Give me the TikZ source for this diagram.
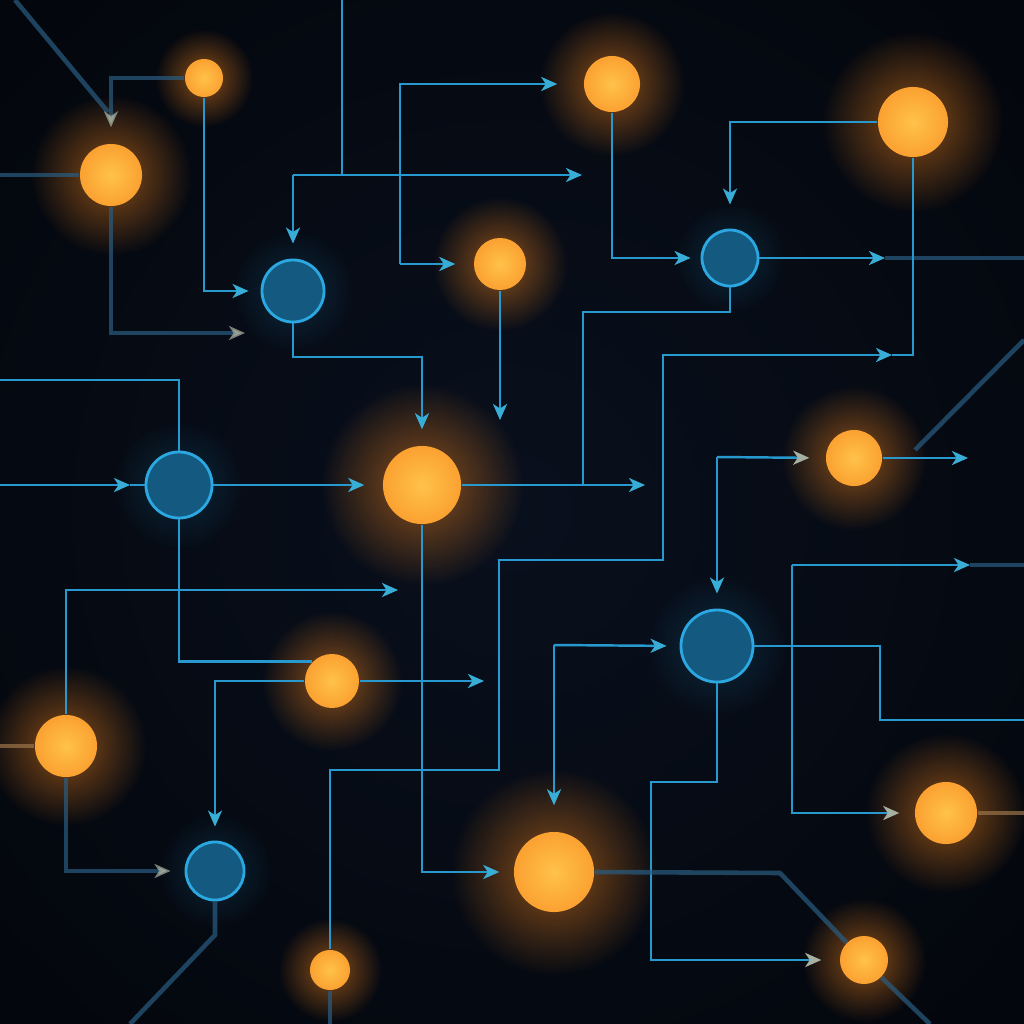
\documentclass[tikz,border=0pt]{standalone}
\usetikzlibrary{arrows.meta,positioning,fadings}
\definecolor{bgdeep}{HTML}{03060C}
\definecolor{bgmid}{HTML}{09101D}
\definecolor{wire}{HTML}{2899CF}
\definecolor{haze}{HTML}{2A5D82}
\definecolor{amber}{HTML}{FFC24A}
\definecolor{ember}{HTML}{F7861C}
\definecolor{ring}{HTML}{2BA8E2}
\definecolor{core}{HTML}{145A80}
\definecolor{tipcyan}{HTML}{38AED6}
\definecolor{tipsand}{HTML}{A6B0A2}
\tikzfading[name=glowfade, inner color=transparent!45, outer color=transparent!100]

\begin{document}
\begin{tikzpicture}[x=0.01cm,y=-0.01cm,
  wire/.style={draw=wire, line width=0.7pt},
  haze/.style={draw=haze, line width=1.3pt, opacity=0.7},
  tip/.style={-{Stealth[length=0.16cm,width=0.14cm,inset=0.045cm,color=tipcyan]}},
  dimtip/.style={-{Stealth[length=0.16cm,width=0.14cm,inset=0.045cm,color=tipsand]}},
  gap/.style={shorten >={#1*0.01cm}},
  hot/.style={circle, inner sep=0pt, shading=radial, inner color=amber, outer color=ember!55!amber},
  cool/.style={circle, inner sep=0pt, fill=core, draw=ring, line width=0.8pt}]
\def\hotlist{O1/204/78/19, O2/111/175/31, O3/612/84/28, O4/913/122/35, O5/500/264/26,
  O6/422/485/39, O7/854/458/28, O8/332/681/27, O9/66/746/31, O10/946/813/31,
  O11/554/872/40, O12/864/960/24, O13/330/970/20}
\def\coollist{B1/293/291/31, B2/730/258/28, B3/179/485/33, B4/717/646/36, B5/215/871/29}

\useasboundingbox (0,0) rectangle (1024,1024);
\clip (0,0) rectangle (1024,1024);
\shade[inner color=bgmid, outer color=bgdeep] (-200,-200) rectangle (1224,1224);

% glows
\foreach \nm/\px/\py/\rr in \hotlist
  \fill[ember, path fading=glowfade] (\px,\py) circle ({\rr*2.6});
\foreach \nm/\px/\py/\rr in \coollist
  \fill[ring, path fading=glowfade, fill opacity=0.35] (\px,\py) circle ({\rr*2});

% nodes
\foreach \nm/\px/\py/\rr in \hotlist
  \node[hot, minimum size={\rr*0.02cm}] (\nm) at (\px,\py) {};
\foreach \nm/\px/\py/\rr in \coollist
  \node[cool, minimum size={\rr*0.02cm}] (\nm) at (\px,\py) {};

% top left
\coordinate (tl) at (15,0);
\coordinate (ja) at (108,112);
\draw[haze] (tl) -- (ja);
\draw[haze,dimtip,gap=16] (O1.west) -| (O2.north);
\coordinate (le1) at (0,175);
\draw[haze] (le1) -- (O2.west);
\draw[wire,tip,gap=12] (O1.south) |- (B1.west);
\coordinate (e1) at (245,333);
\draw[haze,dimtip] (O2.south) |- (e1);

% upper middle
\coordinate (te1) at (342,0);
\coordinate (ja2) at (342,175);
\coordinate (jb) at (293,175);
\coordinate (e2) at (582,175);
\draw[wire] (te1) -- (ja2);
\draw[wire,tip] (jb) -- (e2);
\draw[wire,tip,gap=15] (jb) -- (B1.north);
\coordinate (jc) at (400,264);
\draw[wire,tip,gap=26] (jc) |- (O3.west);
\draw[wire,tip,gap=18] (jc) -- (O5.west);
\draw[wire,tip,gap=10] (O3.south) |- (B2.west);
\draw[wire,tip,gap=24] (O4.west) -| (B2.north);
\coordinate (jd) at (885,258);
\coordinate (re1) at (1024,258);
\draw[wire,tip] (B2.east) -- (jd);
\draw[haze] (jd) -- (re1);
\coordinate (je) at (583,312);
\coordinate (jf) at (583,485);
\draw[wire] (B2.south) |- (je) -- (jf);
\coordinate (e3) at (645,485);
\draw[wire,tip] (O6.east) -- (e3);
\coordinate (jg) at (913,355);
\coordinate (e4) at (892,355);
\draw[wire] (O4.south) -- (jg) -- (e4);
\draw[wire,tip] (O13.north) |- (499,770) |- (663,560) |- (e4);
\coordinate (e5) at (500,420);
\draw[wire,tip] (O5.south) -- (e5);
\coordinate (jh) at (422,357);
\draw[wire,tip,gap=16] (B1.south) |- (jh) -- (O6.north);

% left
\coordinate (le2) at (0,380);
\draw[wire] (le2) -| (B3.north);
\coordinate (le3) at (0,485);
\coordinate (ji) at (130,485);
\draw[wire,tip] (le3) -- (ji);
\draw[wire] (ji) -- (B3.west);
\draw[wire,tip,gap=18] (B3.east) -- (O6.west);
\draw[wire] (B3.south) |- (O8.north west);
\coordinate (e6) at (398,590);
\draw[wire,tip] (O9.north) |- (e6);
\coordinate (e7) at (484,681);
\draw[wire,tip] (O8.east) -- (e7);
\draw[wire,tip,gap=14] (O8.west) -| (B5.north);
\draw[wire,tip,gap=14] (O6.south) |- (O11.west);
\coordinate (le4) at (0,746);
\draw[haze,draw=ember!55!haze] (le4) -- (O9.west);
\draw[haze,dimtip,gap=14] (O9.south) |- (B5.west);
\coordinate (jj) at (215,935);
\coordinate (be1) at (130,1024);
\draw[haze] (B5.south) -- (jj) -- (be1);
\coordinate (be2) at (330,1024);
\draw[haze] (O13.south) -- (be2);

% right
\coordinate (jk) at (554,645);
\draw[wire,tip,gap=26] (jk) -- (O11.north);
\draw[wire,tip,gap=13] (jk) -- (B4.west);
\coordinate (jl) at (717,457);
\draw[wire,dimtip,gap=16] (jl) -- (O7.west);
\draw[wire,tip,gap=15] (jl) -- (B4.north);
\coordinate (e8) at (968,458);
\draw[wire,tip] (O7.east) -- (e8);
\coordinate (jm) at (915,450);
\coordinate (re2) at (1024,340);
\draw[haze] (jm) -- (re2);
\coordinate (jn) at (792,565);
\coordinate (jo) at (970,565);
\coordinate (re3) at (1024,565);
\draw[wire,tip] (jn) -- (jo);
\draw[haze] (jo) -- (re3);
\draw[wire,dimtip,gap=15] (jn) |- (O10.west);
\coordinate (jp) at (880,646);
\coordinate (re4) at (1024,720);
\draw[wire] (B4.east) -- (jp) |- (re4);
\coordinate (jq) at (717,782);
\coordinate (jr) at (651,960);
\draw[wire,dimtip,gap=18] (B4.south) -- (jq) -| (jr) -- (O12.west);
\coordinate (js) at (780,873);
\coordinate (be3) at (930,1024);
\draw[haze] (O11.east) -- (js) -- (O12.north west);
\draw[haze] (O12.south east) -- (be3);
\coordinate (re5) at (1024,813);
\draw[haze,draw=ember!55!haze] (O10.east) -- (re5);
\end{tikzpicture}
\end{document}
